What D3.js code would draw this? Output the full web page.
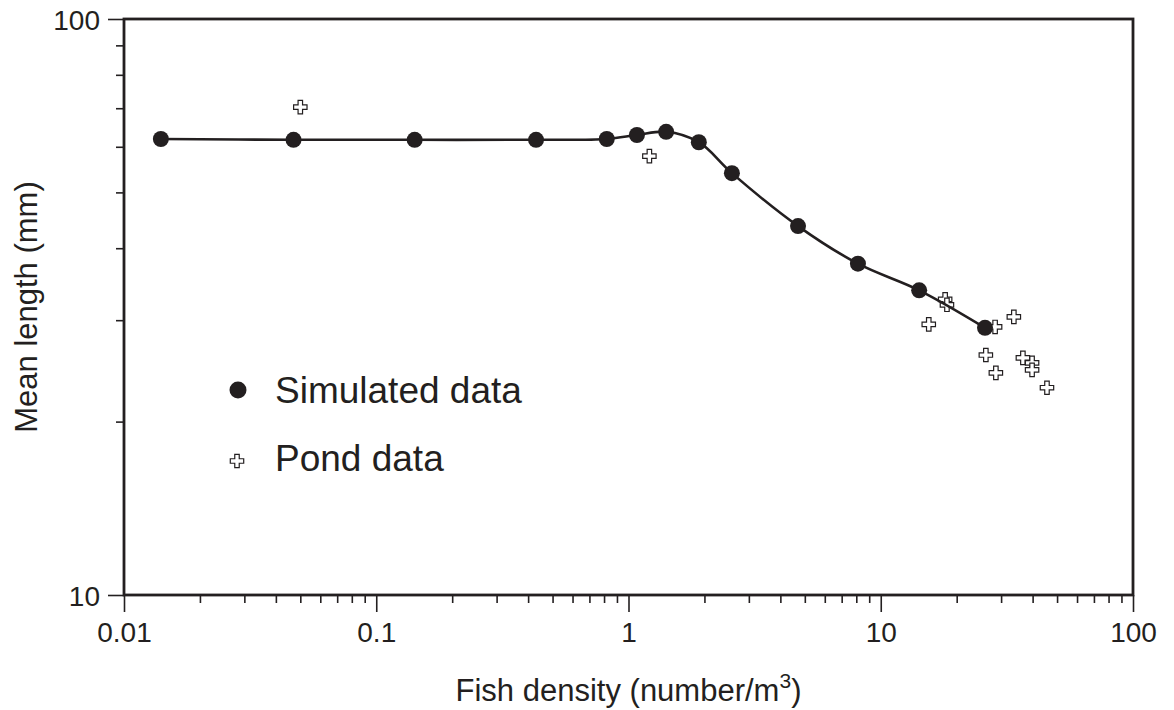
<!DOCTYPE html>
<html>
<head>
<meta charset="utf-8">
<script src="https://cdn.jsdelivr.net/npm/d3@7"></script>
<style>
  html, body { margin: 0; padding: 0; background: #fff; }
  svg { display: block; font-family: "Liberation Sans", Arial, Helvetica, sans-serif; }
</style>
</head>
<body>
<svg id="chart" width="1174" height="710"></svg>
<script>
// Simulated mean length versus fish density (model output)
const simDensity = [0.014, 0.047, 0.142, 0.43, 0.82, 1.08, 1.41, 1.90, 2.57, 4.70, 8.12, 14.2, 25.9];
const simLength  = [61.9, 61.7, 61.7, 61.7, 61.9, 62.9, 63.7, 61.1, 54.0, 43.7, 37.6, 33.8, 29.1];

// Observed pond measurements
const pondDensity = [0.050, 1.21, 15.5, 18.0, 18.3, 28.4, 33.7, 26.1, 28.6, 36.6, 39.8, 39.8, 45.6];
const pondLength  = [70.3, 57.8, 29.5, 32.6, 31.9, 29.2, 30.4, 26.1, 24.3, 25.8, 25.3, 24.6, 22.9];

// Axis ticks
const xMajorTicks = [0.01, 0.1, 1, 10, 100];
const xTickLabels = ["0.01", "0.1", "1", "10", "100"];
const yMajorTicks = [10, 100];
const yTickLabels = ["10", "100"];
const yMinorTicks = [20, 30, 40, 50, 60, 70, 80, 90];

const legendLabels = ["Simulated data", "Pond data"];

const svg = d3.select("#chart");
const plotLeft = 124, plotRight = 1133, plotTop = 19, plotBottom = 595;
const ink = "#231f20";

const x = d3.scaleLog().domain([0.01, 100]).range([plotLeft, plotRight]);
const y = d3.scaleLog().domain([10, 100]).range([plotBottom, plotTop]);

const xMinorTicks = x.ticks().filter(v => !xMajorTicks.some(m => Math.abs(m - v) / m < 1e-9));

// Bottom axis: minor ticks, then major ticks with labels
const gxMinor = svg.append("g").attr("transform", `translate(0,${plotBottom})`)
  .call(d3.axisBottom(x).tickValues(xMinorTicks).tickSize(8).tickFormat(""));
const gx = svg.append("g").attr("transform", `translate(0,${plotBottom})`)
  .call(d3.axisBottom(x).tickValues(xMajorTicks).tickSize(17).tickPadding(10)
    .tickFormat((d, i) => xTickLabels[i]));

// Left axis
const gyMinor = svg.append("g").attr("transform", `translate(${plotLeft},0)`)
  .call(d3.axisLeft(y).tickValues(yMinorTicks).tickSize(8).tickFormat(""));
const gy = svg.append("g").attr("transform", `translate(${plotLeft},0)`)
  .call(d3.axisLeft(y).tickValues(yMajorTicks).tickSize(16).tickPadding(8)
    .tickFormat((d, i) => yTickLabels[i]));

[gxMinor, gx, gyMinor, gy].forEach(g => {
  g.select(".domain").remove();
  g.selectAll(".tick line").attr("stroke", ink).attr("stroke-width", 1.6);
  g.selectAll(".tick text").attr("fill", ink).attr("font-size", 28)
    .attr("font-family", "'Liberation Sans', Arial, sans-serif");
});
gy.selectAll(".tick text").attr("dy", "0.36em");

// Frame around the plotting area
svg.append("rect")
  .attr("x", plotLeft).attr("y", plotTop)
  .attr("width", plotRight - plotLeft).attr("height", plotBottom - plotTop)
  .attr("fill", "none").attr("stroke", ink).attr("stroke-width", 2.8);

// Pond observations as open crosses
const crossPath = d3.symbol().type(d3.symbolCross).size(100)();
svg.append("g").selectAll("path")
  .data(pondDensity.map((d, i) => [d, pondLength[i]]))
  .join("path")
  .attr("d", crossPath)
  .attr("transform", d => `translate(${x(d[0])},${y(d[1])})`)
  .attr("fill", "#fff").attr("stroke", ink).attr("stroke-width", 1.2);

// Smooth line through the simulated values
const simPts = simDensity.map((d, i) => [d, simLength[i]]);
svg.append("path")
  .datum(simPts)
  .attr("fill", "none").attr("stroke", ink).attr("stroke-width", 2.6)
  .attr("d", d3.line().x(d => x(d[0])).y(d => y(d[1])).curve(d3.curveCatmullRom.alpha(0.5)));

svg.append("g").selectAll("circle")
  .data(simPts)
  .join("circle")
  .attr("cx", d => x(d[0])).attr("cy", d => y(d[1]))
  .attr("r", 8).attr("fill", ink);

// Legend
const legend = svg.append("g");
legend.append("circle").attr("cx", 238).attr("cy", 390).attr("r", 8.5).attr("fill", ink);
legend.append("text").attr("x", 275).attr("y", 403).attr("font-size", 37).attr("fill", ink)
  .text(legendLabels[0]);
legend.append("path").attr("d", crossPath)
  .attr("transform", "translate(237,461)")
  .attr("fill", "#fff").attr("stroke", ink).attr("stroke-width", 1.2);
legend.append("text").attr("x", 275).attr("y", 471).attr("font-size", 37).attr("fill", ink)
  .text(legendLabels[1]);

// Axis titles
const xt = svg.append("text")
  .attr("x", (plotLeft + plotRight) / 2).attr("y", 701)
  .attr("text-anchor", "middle").attr("font-size", 31).attr("fill", ink);
xt.append("tspan").text("Fish density (number/m");
xt.append("tspan").attr("font-size", 21).attr("dy", -13).text("3");
xt.append("tspan").attr("dy", 13).text(")");

svg.append("text")
  .attr("transform", `translate(37,${(plotTop + plotBottom) / 2}) rotate(-90)`)
  .attr("text-anchor", "middle").attr("font-size", 31).attr("fill", ink)
  .text("Mean length (mm)");
</script>
</body>
</html>
